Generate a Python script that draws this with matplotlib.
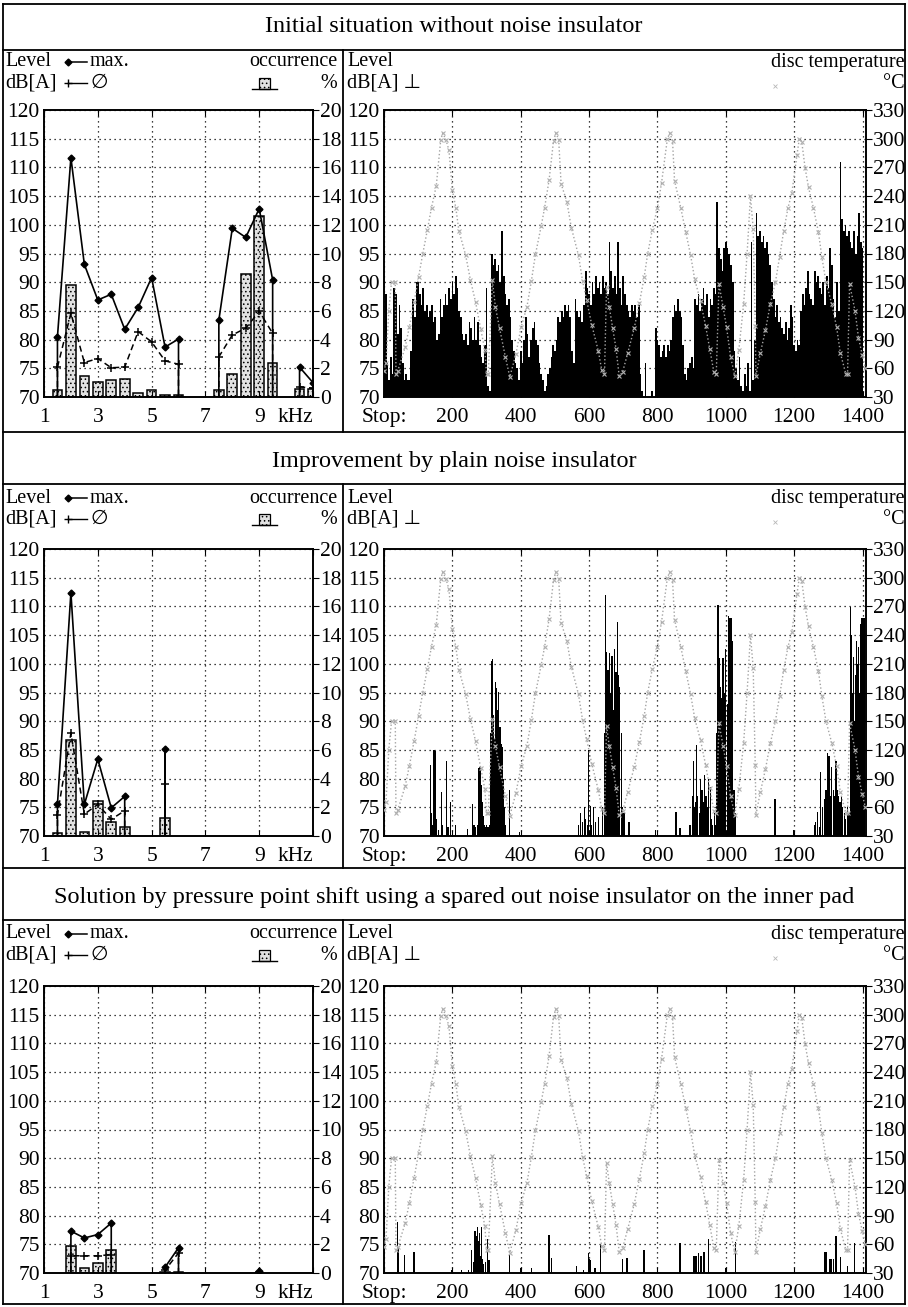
import numpy as np
import matplotlib
matplotlib.use("Agg")
import matplotlib.pyplot as plt
from matplotlib.lines import Line2D
from matplotlib.patches import Rectangle

plt.rcParams['font.family'] = ['Liberation Serif', 'DejaVu Sans']
plt.rcParams['hatch.color'] = '#7a7a7a'
plt.rcParams['hatch.linewidth'] = 0.6

W, H = 908, 1307
nan = np.nan

titles = [
    "Initial situation without noise insulator",
    "Improvement by plain noise insulator",
    "Solution by pressure point shift using a spared out noise insulator on the inner pad",
]

# --- left diagrams: frequency bands (kHz)
freqs = [1.5, 2, 2.5, 3, 3.5, 4, 4.5, 5, 5.5, 6, 6.5, 7, 7.5, 8, 8.5, 9, 9.5, 10, 10.5, 11]

max1 = [80.5, 111.7, 93.1, 86.9, 87.9, 81.8, 85.6, 90.8, 78.7, 80.1, nan, nan,
        83.4, 99.4, 97.8, 102.8, 90.4, nan, 75.2, 72.5]
mean1 = [75.2, 84.6, 76.0, 76.7, 75.1, 75.2, 81.4, 79.6, 76.3, 75.7, nan, nan,
         77.0, 80.8, 82.0, 84.9, 81.1, nan, 71.8, 71.5]
occ1 = [0.5, 7.8, 1.45, 1.05, 1.15, 1.25, 0.3, 0.47, 0.15, 0.15, 0, 0,
        0.5, 1.6, 8.6, 12.6, 2.4, 0, 0.55, 0.55]

max2 = [75.5, 112.4, 75.5, 83.4, 74.9, 76.9, nan, nan, 85.1, nan, nan, nan,
        nan, nan, nan, nan, nan, nan, nan, nan]
mean2 = [73.7, 87.9, 73.8, 75.5, 72.9, 74.4, nan, nan, 79.0, nan, nan, nan,
         nan, nan, nan, nan, nan, nan, nan, nan]
occ2 = [0.2, 6.7, 0.25, 2.45, 1.0, 0.63, 0, 0, 1.28, 0, 0, 0,
        0, 0, 0, 0, 0, 0, 0, 0]

max3 = [nan, 77.3, 76.1, 76.7, 78.7, nan, nan, nan, 71.0, 74.4, nan, nan,
        nan, nan, nan, 70.3, nan, nan, nan, nan]
mean3 = [nan, 73.0, 73.0, 73.0, 73.2, nan, nan, nan, 70.5, 73.5, nan, nan,
         nan, nan, nan, 70.2, nan, nan, nan, nan]
occ3 = [0, 1.87, 0.35, 0.7, 1.63, 0, 0, 0, 0.05, 0.1, 0, 0,
        0, 0, 0, 0.03, 0, 0, 0, 0]

# --- right diagrams: level per stop
# run 1: level every 5 stops (0 ... 1400)
lvl1 = [78, 88, 76, 73, 77, 74, 89, 88, 81, 86, 82, 76, 73, 74, 73, 73, 78, 87, 84, 90,
        90, 88, 86, 89, 85, 86, 84, 85, 86, 83, 84, 80, 81, 87, 84, 86, 88, 86, 89, 87,
        90, 88, 91, 89, 85, 84, 81, 80, 81, 79, 83, 82, 80, 84, 80, 83, 79, 77, 76, 79,
        89, 72, 71, 95, 93, 94, 92, 93, 90, 99, 91, 88, 86, 87, 84, 80, 78, 76, 75, 73,
        78, 76, 80, 84, 81, 77, 80, 82, 83, 80, 79, 76, 74, 73, 71, 72, 74, 75, 77, 79,
        78, 80, 84, 83, 85, 84, 86, 85, 86, 84, 78, 76, 87, 85, 84, 85, 83, 86, 92, 89,
        88, 86, 90, 88, 91, 89, 90, 88, 91, 89, 90, 88, 97, 92, 89, 91, 88, 97, 89, 86,
        91, 88, 86, 85, 84, 86, 85, 86, 84, 86, 74, 71, 70, 76, 70, 70, 70, 71, 70, 82,
        80, 79, 77, 78, 79, 77, 79, 78, 80, 84, 86, 85, 87, 85, 84, 79, 74, 73, 75, 76,
        77, 75, 87, 86, 88, 85, 87, 89, 86, 88, 84, 87, 86, 89, 88, 104, 96, 94, 92, 96,
        97, 96, 95, 93, 90, 78, 75, 73, 77, 72, 71, 74, 72, 76, 71, 97, 73, 80, 102, 98,
        99, 97, 98, 96, 97, 95, 93, 90, 87, 84, 86, 83, 84, 82, 81, 83, 80, 82, 86, 84,
        79, 78, 80, 79, 85, 88, 86, 89, 92, 88, 87, 86, 92, 90, 91, 89, 88, 90, 86, 91,
        89, 96, 93, 87, 84, 90, 85, 111, 101, 99, 100, 98, 99, 97, 96, 99, 95, 98, 102, 97,
        96]
stop1 = np.arange(0, 1401, 5)

# run 2: single squeal events
stop2 = [137, 140, 143, 146, 150, 153, 160, 168, 172, 183, 187, 195, 210,
         244, 258, 263, 268, 273, 278, 281, 284, 287, 290, 293, 297, 300, 304, 308,
         312, 315, 318, 321, 324, 327, 330, 333, 336, 339, 342, 346, 349, 352, 356, 368, 396,
         569, 575, 580, 586, 590, 595, 598, 603, 608, 613, 618, 627, 640, 644, 647, 651,
         655, 659, 663, 667, 671, 675, 679, 683, 687, 690, 694, 698, 702, 717,
         795, 854, 866, 895, 902, 905, 908, 912, 915, 918, 922, 926, 930, 934, 938, 942,
         946, 950, 954, 958, 962, 966, 970, 974, 977, 980, 984, 988, 992, 996, 1000, 1004,
         1008, 1012, 1016, 1020, 1024, 1028,
         1144, 1197, 1259, 1263, 1268, 1273, 1278, 1282, 1288, 1293, 1297, 1302, 1306,
         1310, 1314, 1318, 1322, 1326, 1330, 1334, 1338, 1342, 1346, 1350, 1355, 1360,
         1365, 1368, 1371, 1374, 1377, 1380, 1383, 1386, 1389, 1392, 1395, 1398, 1401, 1404]
lvl2 = [82.3, 74, 72, 85, 84.8, 73, 71, 77.7, 72, 83, 71.5, 75.9, 71.9,
        71.3, 75.6, 72, 71.5, 72, 81.9, 82, 78.8, 76, 73.5, 72, 71.5, 72, 71.5, 72,
        88, 100.5, 100.9, 91, 87, 96.9, 95.7, 92, 95.1, 89, 86, 85.5, 80, 75, 72, 78, 70.7,
        72, 74, 72.5, 75, 73, 72, 85, 75.3, 72, 75, 72.5, 73.3, 75, 88, 112, 102,
        99, 101.9, 95, 101.3, 92, 102.6, 98.6, 107.2, 98, 96, 88, 75, 74, 72.4,
        71, 74.2, 71.4, 71.9, 77, 83, 75, 76, 85.8, 77, 74, 80, 78, 76, 80.6, 77,
        75, 80, 78.5, 73, 72, 74, 72, 88, 110.2, 101, 96, 94, 101, 95, 102.6, 93,
        108.4, 108, 108, 104, 78, 74,
        76.5, 71, 72, 72.5, 74.2, 71.5, 81.2, 75, 76.5, 78, 84.4, 84, 77,
        82, 78, 77, 83, 78, 77, 76, 77, 75, 74, 73, 75, 74,
        109.9, 105, 95, 101.2, 90, 98, 104, 100, 103, 95, 107, 108, 104, 108]

# run 3
stop3 = [40, 42, 59, 88, 198, 227, 247, 256, 263, 266, 270, 273, 276, 279, 282, 285,
         288, 291, 297, 302, 305, 309, 367, 401, 431, 483, 491, 564, 583, 598, 601, 603,
         617, 634, 698, 711, 759, 763, 800, 866, 907, 911, 915, 921, 925, 929, 936, 950,
         999, 1028, 1290, 1293, 1305, 1309, 1315, 1322, 1335, 1356, 1376, 1394]
lvl3 = [78.8, 74.3, 73.2, 73.7, 70.5, 70.5, 70.5, 74, 72, 77.4, 76.5, 78, 75.5, 77, 73, 78,
        72.5, 71.5, 72, 76, 72.3, 72.3, 73.2, 70.8, 70.8, 76.6, 72.7, 71.2, 70.5, 73.4, 72.5, 72.3,
        70.8, 75.1, 72.5, 72.7, 74, 74, 70.5, 75.3, 73, 73, 73, 73.4, 73, 73, 73.7, 76,
        70.8, 75.4, 73.7, 73.7, 72.5, 72.5, 72.5, 76.4, 72.8, 71.3, 75.2, 70.2]

# disc temperature (same brake programme in all three runs)
temp_stop = [0, 6, 14, 22, 33, 35, 40, 62, 74, 88, 101, 113, 127, 139, 153, 166, 172, 181,
             190, 200, 210, 219, 239, 253, 268, 283, 295, 300, 305, 317, 326, 338, 355, 368,
             386, 401, 418, 431, 443, 460, 470, 483, 496, 503, 511, 518, 535, 548, 569, 581,
             593, 608, 627, 637, 645, 651, 659, 669, 679, 688, 698, 713, 732, 747, 761, 771,
             785, 800, 812, 829, 836, 844, 850, 868, 883, 897, 909, 926, 941, 953, 965, 972,
             980, 992, 1002, 1014, 1026, 1038, 1052, 1062, 1072, 1080, 1086, 1088, 1101, 1116,
             1130, 1145, 1157, 1169, 1182, 1193, 1208, 1215, 1222, 1232, 1242, 1256, 1271,
             1281, 1293, 1310, 1324, 1335, 1351, 1356, 1362, 1378, 1388, 1399, 1408]
temp_c = [57, 66, 120, 150, 150, 54, 57, 82, 103, 129, 155, 179, 205, 228, 251, 299, 306, 299,
          288, 246, 228, 204, 178, 152, 129, 101, 79, 54, 54, 152, 124, 102, 72, 51,
          75, 103, 124, 151, 179, 209, 228, 257, 298, 306, 299, 253, 234, 207, 178, 151,
          131, 105, 78, 58, 54, 145, 124, 102, 80, 52, 56, 76, 102, 128, 155, 179,
          205, 228, 254, 300, 306, 298, 256, 228, 202, 178, 153, 130, 104, 80, 56, 54,
          148, 124, 103, 72, 52, 79, 127, 179, 240, 206, 104, 52, 76, 100,
          127, 150, 176, 203, 228, 243, 283, 300, 297, 269, 249, 228, 202,
          176, 150, 127, 103, 76, 54, 54, 148, 120, 92, 74, 60]

runs = [
    (max1, mean1, occ1, stop1, lvl1, 5.0),
    (max2, mean2, occ2, stop2, lvl2, 3.6),
    (max3, mean3, occ3, stop3, lvl3, 3.6),
]

# layout in pixels of the original page
plot_top = [110, 549, 986]
plot_bot = [397, 836, 1273]
title_y = [27, 462, 898]
row1_y = [62, 498, 934]
row2_y = [83, 519, 955]
box_top = [50, 484, 920]
box_bot = [432, 868, 1304]
LX0, LX1 = 44, 313
RX0, RX1 = 384, 866
FS = 14.5
TFS = 15.5
GRID = dict(color='k', ls=(0, (1, 3)), lw=0.9)


def fx(x):
    return x / W


def fy(y):
    return 1 - y / H


def rect(x0, x1, y0, y1):
    return [fx(x0), fy(y1), (x1 - x0) / W, (y1 - y0) / H]


def with_drops(x, y):
    # lines fall vertically to the 70 dB base at the ends of each group of bands
    xs, ys = [], []
    i, n = 0, len(x)
    while i < n:
        if np.isnan(y[i]):
            i += 1
            continue
        j = i
        while j < n and not np.isnan(y[j]):
            j += 1
        xs += [x[i]] + list(x[i:j]) + [x[j - 1], nan]
        ys += [70] + list(y[i:j]) + [70, nan]
        i = j
    return xs, ys


fig = plt.figure(figsize=(W / 100, H / 100), dpi=100)

# frame lines
def hline(y, x0=3, x1=905, lw=1.3):
    fig.add_artist(Line2D([fx(x0), fx(x1)], [fy(y), fy(y)], color='k', lw=lw))


def vline(x, y0, y1, lw=1.3):
    fig.add_artist(Line2D([fx(x), fx(x)], [fy(y0), fy(y1)], color='k', lw=lw))


hline(4)
vline(3, 4, 1304)
vline(905, 4, 1304)
for k in range(3):
    hline(box_top[k])
    hline(box_bot[k])
    vline(343, box_top[k], box_bot[k])
    fig.text(fx(454), fy(title_y[k]), titles[k], ha='center', va='center', fontsize=17.5)

for k, (mx, mn, oc, st, lv, bw) in enumerate(runs):
    # ---------------- frequency diagram
    ax = fig.add_axes(rect(LX0, LX1, plot_top[k], plot_bot[k]))
    axo = ax.twinx()
    occ_f = [f for f, o in zip(freqs, oc) if o > 0]
    occ_v = [o for o in oc if o > 0]
    axo.bar(occ_f, occ_v, width=0.36, facecolor='#e2e2e2', edgecolor='k',
            hatch='....', lw=1.1, zorder=2)
    axo.set_ylim(0, 20)
    axo.set_yticks(range(0, 21, 2))
    axo.grid(True, axis='y', **GRID)
    axo.set_axisbelow(True)

    ax.set_zorder(axo.get_zorder() + 1)
    ax.patch.set_visible(False)
    xs, ys = with_drops(freqs, mx)
    ax.plot(xs, ys, color='k', lw=1.2)
    ax.plot(freqs, mx, ls='none', marker='D', ms=3.5, color='k')
    xs, ys = with_drops(freqs, mn)
    ax.plot(xs, ys, color='k', lw=1.1, ls=(0, (4, 2.5)))
    ax.plot(freqs, mn, ls='none', marker='+', ms=6, mew=1.1, color='k')
    ax.set_xlim(1, 11)
    ax.set_ylim(70, 120)
    ax.set_yticks(range(70, 121, 5))
    ax.set_xticks([1, 3, 5, 7, 9, 11])
    ax.set_xticklabels(['1', '3', '5', '7', '9', 'kHz'])
    ax.get_xticklabels()[-1].set_ha('right')
    ax.grid(True, axis='x', **GRID)
    ax.tick_params(axis='y', labelsize=TFS, length=0, pad=3)
    ax.tick_params(axis='x', labelsize=TFS, length=4, direction='in', top=True, pad=8)
    axo.tick_params(axis='y', labelsize=TFS, length=4, direction='out', pad=1)
    for a in (ax, axo):
        for s in a.spines.values():
            s.set_linewidth(1.2)

    # legend rows of the frequency diagram
    fig.text(fx(5), fy(row1_y[k]), "Level", fontsize=FS, va='center')
    fig.text(fx(5), fy(row2_y[k]), "dB[A]", fontsize=FS, va='center')
    fig.add_artist(Line2D([fx(68), fx(87)], [fy(row1_y[k])] * 2, color='k', lw=1.1,
                          marker='D', ms=3.5, markevery=[0]))
    fig.add_artist(Line2D([fx(68), fx(87)], [fy(row2_y[k])] * 2, color='k', lw=1.0,
                          marker='+', ms=6, markevery=[0]))
    fig.text(fx(90), fy(row1_y[k]), "max.", fontsize=FS, va='center')
    fig.text(fx(91), fy(row2_y[k]), "\u2205", fontsize=FS, va='center')
    fig.text(fx(337), fy(row1_y[k]), "occurrence", fontsize=FS, va='center', ha='right')
    fig.text(fx(337), fy(row2_y[k]), "%", fontsize=FS, va='center', ha='right')
    fig.add_artist(Rectangle((fx(259), fy(row2_y[k] + 6)), 11 / W, 11 / H, facecolor='#e2e2e2',
                             edgecolor='k', hatch='....', lw=0.9, transform=fig.transFigure))
    fig.add_artist(Line2D([fx(252), fx(277)], [fy(row2_y[k] + 6)] * 2, color='k', lw=1.0))

    # ---------------- stop diagram
    bx = fig.add_axes(rect(RX0, RX1, plot_top[k], plot_bot[k]))
    bx.bar(st, np.array(lv) - 70, bottom=70, width=bw, color='k', lw=0, zorder=2)
    bx.set_xlim(0, 1410)
    bx.set_ylim(70, 120)
    bx.set_yticks(range(70, 121, 5))
    bx.set_xticks(range(0, 1401, 200))
    bx.set_xticklabels(['Stop:'] + [str(v) for v in range(200, 1401, 200)])
    bx.grid(True, **GRID)
    bx.set_axisbelow(True)
    bx.tick_params(axis='y', labelsize=TFS, length=0, pad=3)
    bx.tick_params(axis='x', labelsize=TFS, length=4, direction='in', top=True, pad=8)

    tx = bx.twinx()
    tx.plot(temp_stop, temp_c, ls=':', color='#a4a4a4', lw=1.0,
            marker='x', ms=3.5, mew=0.8, mec='#b0b0b0', zorder=3)
    tx.set_ylim(30, 330)
    tx.set_yticks(range(30, 331, 30))
    tx.tick_params(axis='y', labelsize=TFS, length=4, direction='out', pad=1)
    for a in (bx, tx):
        for s in a.spines.values():
            s.set_linewidth(1.2)

    fig.text(fx(347), fy(row1_y[k]), "Level", fontsize=FS, va='center')
    fig.text(fx(347), fy(row2_y[k]), "dB[A] \u22a5", fontsize=FS, va='center')
    fig.text(fx(905), fy(row1_y[k]), "disc temperature", fontsize=FS, va='center', ha='right')
    fig.text(fx(905), fy(row2_y[k]), "\u00b0C", fontsize=FS, va='center', ha='right')
    fig.add_artist(Line2D([fx(775)], [fy(row2_y[k] + 3)], ls='none', marker='x', ms=2.5,
                          mew=0.6, color='#b8b8b8'))

fig.savefig("out.png", dpi=100)
